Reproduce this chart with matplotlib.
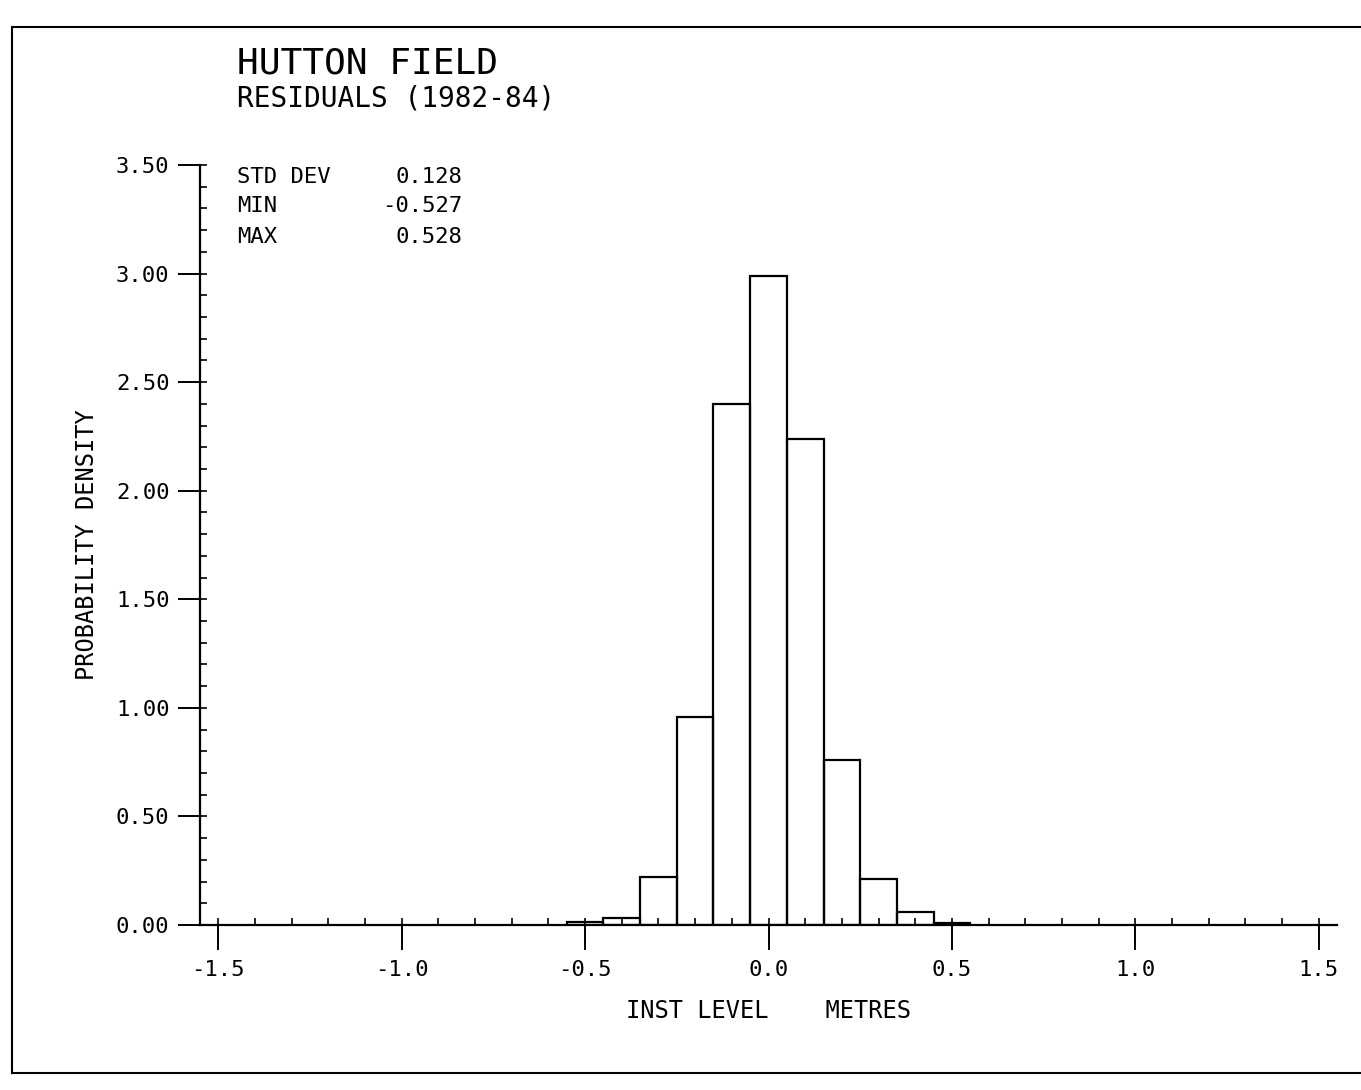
import numpy as np
import matplotlib.pyplot as plt
from matplotlib.lines import Line2D

# histogram (bin width 0.1 m)
bin_left = [-0.55, -0.45, -0.35, -0.25, -0.15, -0.05, 0.05, 0.15, 0.25, 0.35, 0.45]
density = [0.015, 0.03, 0.22, 0.96, 2.40, 2.99, 2.24, 0.76, 0.21, 0.06, 0.01]

stat_names = ["STD DEV", "MIN", "MAX"]
stat_values = ["0.128", "-0.527", "0.528"]

x_major = [-1.5, -1.0, -0.5, 0.0, 0.5, 1.0, 1.5]
y_major = [0.0, 0.5, 1.0, 1.5, 2.0, 2.5, 3.0, 3.5]

plt.rcParams['font.family'] = 'DejaVu Sans Mono'
plt.rcParams['axes.unicode_minus'] = False

W, H = 1361, 1090
fig = plt.figure(figsize=(W / 100, H / 100), dpi=100)
ax = fig.add_axes([200 / W, (H - 925) / H, 1137 / W, 760 / H])

ax.bar(bin_left, density, width=0.1, align='edge', fill=False,
       edgecolor='black', linewidth=1.6)

ax.set_xlim(-1.55, 1.55)
ax.set_ylim(0, 3.5)

for s in ['top', 'right']:
    ax.spines[s].set_visible(False)
for s in ['left', 'bottom']:
    ax.spines[s].set_linewidth(1.6)

ax.set_xticks(x_major)
ax.set_xticklabels(['%.1f' % v for v in x_major])
ax.set_xticks(np.arange(-15, 16) / 10, minor=True)
ax.set_yticks(y_major)
ax.set_yticklabels(['%.2f' % v for v in y_major])
ax.set_yticks(np.arange(0, 36) / 10, minor=True)
ax.xaxis.remove_overlapping_locs = False
ax.yaxis.remove_overlapping_locs = False

ax.tick_params(axis='x', which='major', direction='out', length=18, width=1.4,
               pad=7, labelsize=16)
ax.tick_params(axis='y', which='major', direction='out', length=16, width=1.4,
               pad=6, labelsize=16)
ax.tick_params(which='minor', direction='in', length=5, width=1.2)

ax.set_xlabel('INST LEVEL    METRES', fontsize=17, labelpad=14)
ax.set_ylabel('PROBABILITY DENSITY', fontsize=17, labelpad=12)

# title block
fig.text(237 / W, 1 - 63 / H, 'HUTTON FIELD', fontsize=26, va='center', ha='left')
fig.text(237 / W, 1 - 99 / H, 'RESIDUALS (1982-84)', fontsize=20, va='center', ha='left')

# stats block
rows_y = [177, 206, 237]
for name, val, yy in zip(stat_names, stat_values, rows_y):
    fig.text(237 / W, 1 - yy / H, name, fontsize=16, va='center', ha='left')
    fig.text(462 / W, 1 - yy / H, val, fontsize=16, va='center', ha='right')

# border of the scanned page
fig.add_artist(Line2D([12 / W, 12 / W], [1 - 27 / H, 1 - 1073 / H], color='black', lw=1.5))
fig.add_artist(Line2D([12 / W, 1], [1 - 27 / H, 1 - 27 / H], color='black', lw=1.5))
fig.add_artist(Line2D([12 / W, 1], [1 - 1073 / H, 1 - 1073 / H], color='black', lw=1.5))

fig.savefig('out.png', dpi=100)
